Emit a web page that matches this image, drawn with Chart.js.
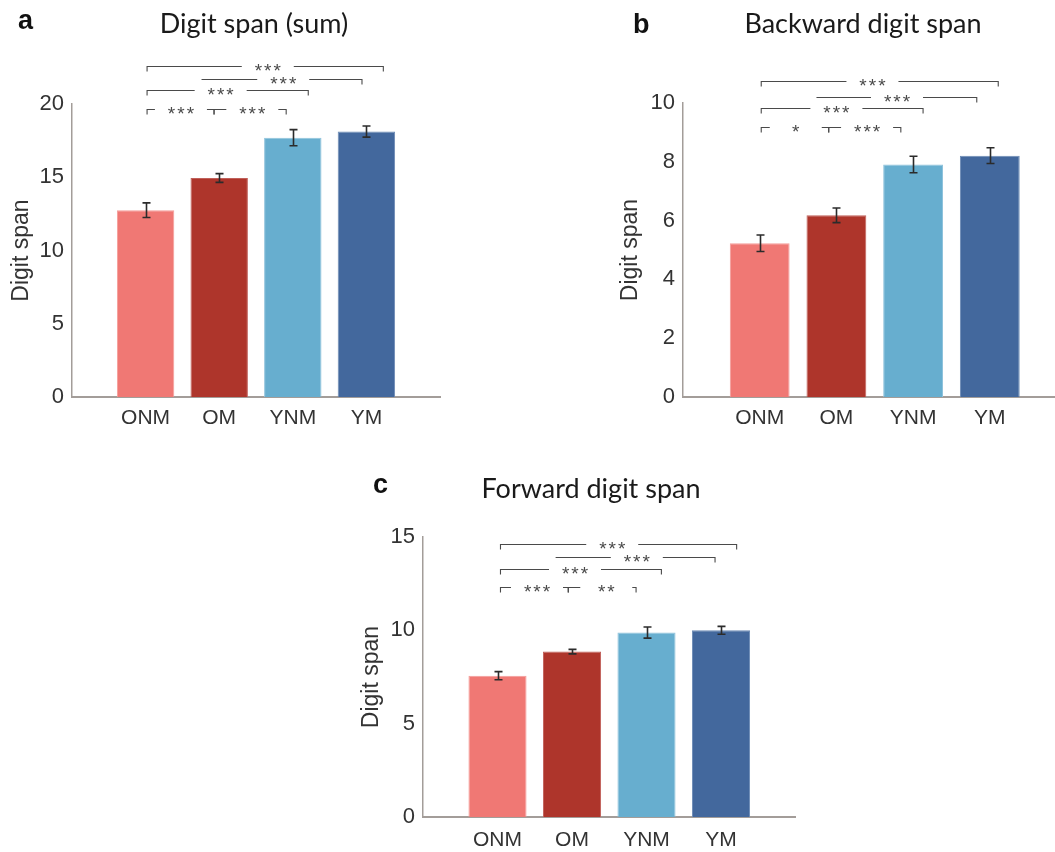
<!DOCTYPE html>
<html>
<head>
<meta charset="utf-8">
<script src="https://cdn.jsdelivr.net/npm/chart.js@4.4.1/dist/chart.umd.min.js"></script>
<style>
  body { margin: 0; background: #fff; }
  #page { position: relative; width: 1055px; height: 852px; overflow: hidden; }
  .panel { position: absolute; }
</style>
</head>
<body>
<div id="page">
  <div class="panel" style="left:0;top:0"><canvas id="chartA" width="445" height="440"></canvas></div>
  <div class="panel" style="left:600px;top:0"><canvas id="chartB" width="455" height="440"></canvas></div>
  <div class="panel" style="left:340px;top:470px"><canvas id="chartC" width="460" height="382"></canvas></div>
</div>
<script>
"use strict";

const groups = ['ONM', 'OM', 'YNM', 'YM'];
const barColors = ['#f07874', '#ae352b', '#67aecf', '#43689d'];
const barEdges = ['#f49c99', '#c0605a', '#8fc3dc', '#6c8bb5'];

// means and s.e.m.
const sumMeans = [12.75, 14.95, 17.7, 18.12];
const sumErrors = [0.5, 0.3, 0.55, 0.38];
const backwardMeans = [5.23, 6.18, 7.91, 8.21];
const backwardErrors = [0.28, 0.25, 0.28, 0.27];
const forwardMeans = [7.57, 8.86, 9.88, 10.0];
const forwardErrors = [0.22, 0.12, 0.3, 0.21];

// significance brackets: from/to/at are group positions, level is in axis units
const sumBrackets = [
    { from: 0.02, to: 3.23, at: 1.66, level: 22.6, text: '***', tickL: true },
    { from: 0.76, to: 2.94, at: 1.87, level: 21.68, text: '***', tickL: false },
    { from: 0.02, to: 2.21, at: 1.02, level: 20.93, text: '***', tickL: true },
    { from: 0.02, to: 0.93, at: 0.48, level: 19.69, text: '***', tickL: true },
    { from: 0.93, to: 1.91, at: 1.45, level: 19.69, text: '***', tickL: true }
];
const backwardBrackets = [
    { from: 0.02, to: 3.11, at: 1.47, level: 10.75, text: '***', tickL: true },
    { from: 0.74, to: 2.83, at: 1.79, level: 10.21, text: '***', tickL: false },
    { from: 0.02, to: 2.13, at: 1.0, level: 9.82, text: '***', tickL: true },
    { from: 0.02, to: 0.90, at: 0.47, level: 9.19, text: '*', tickL: true },
    { from: 0.90, to: 1.84, at: 1.40, level: 9.19, text: '***', tickL: true }
];
const forwardBrackets = [
    { from: 0.04, to: 3.21, at: 1.54, level: 14.64, text: '***', tickL: true },
    { from: 0.78, to: 2.92, at: 1.87, level: 13.93, text: '***', tickL: false },
    { from: 0.04, to: 2.2, at: 1.04, level: 13.28, text: '***', tickL: true },
    { from: 0.04, to: 0.95, at: 0.53, level: 12.32, text: '***', tickL: true },
    { from: 0.95, to: 1.86, at: 1.46, level: 12.32, text: '**', tickL: true }
];

const tickFont = '"Liberation Sans", Arial, sans-serif';
const titleFont = 'Lato, "Open Sans", sans-serif';

const annotate = {
    id: 'annotate',
    afterDraw(chart, args, opts) {
        const ctx = chart.ctx;
        const xs = chart.scales.x;
        const ys = chart.scales.y;
        const ds = chart.data.datasets[0];
        ctx.save();

        // error bars
        ctx.strokeStyle = '#2b2b2b';
        ctx.lineWidth = 1.6;
        chart.getDatasetMeta(0).data.forEach((bar, i) => {
            const m = ds.data[i].y, e = ds.errors[i];
            const top = ys.getPixelForValue(m + e);
            const bot = ys.getPixelForValue(m - e);
            const cx = Math.round(bar.x) + 0.5;
            ctx.beginPath();
            ctx.moveTo(cx, top); ctx.lineTo(cx, bot);
            ctx.moveTo(cx - 4, top); ctx.lineTo(cx + 4, top);
            ctx.moveTo(cx - 4, bot); ctx.lineTo(cx + 4, bot);
            ctx.stroke();
        });

        // brackets
        ctx.strokeStyle = '#4a4a4a';
        ctx.lineWidth = 1.1;
        ctx.fillStyle = '#4a4a4a';
        ctx.font = '19px ' + tickFont;
        ctx.letterSpacing = '2px';
        ctx.textAlign = 'center';
        ctx.textBaseline = 'alphabetic';
        opts.brackets.forEach(b => {
            const x1 = xs.getPixelForValue(b.from);
            const x2 = xs.getPixelForValue(b.to);
            const xt = xs.getPixelForValue(b.at);
            const y = Math.round(ys.getPixelForValue(b.level)) + 0.5;
            ctx.beginPath();
            if (b.tickL) { ctx.moveTo(x1, y + 5); ctx.lineTo(x1, y); } else { ctx.moveTo(x1, y); }
            ctx.lineTo(xt - 26, y);
            ctx.moveTo(xt + 26, y);
            ctx.lineTo(x2, y);
            ctx.lineTo(x2, y + 5);
            ctx.stroke();
            ctx.fillText(b.text, xt + 1, y + 10.5);
        });
        ctx.letterSpacing = '0px';

        // panel letter and title
        ctx.fillStyle = '#111';
        ctx.textAlign = 'left';
        ctx.font = 'bold 27px ' + tickFont;
        ctx.fillText(opts.letter, opts.letterX, opts.letterY);
        ctx.textAlign = 'center';
        ctx.font = '27px ' + titleFont;
        ctx.fillStyle = '#1a1a1a';
        ctx.fillText(opts.title, opts.titleX, opts.titleY);
        ctx.restore();
    }
};

function makeChart(id, cfg) {
    // eslint-disable-next-line no-undef
    return new Chart(document.getElementById(id), {
        type: 'bar',
        data: {
            datasets: [{
                data: cfg.means.map((v, i) => ({ x: i, y: v })),
                errors: cfg.errors,
                backgroundColor: barColors,
                borderColor: barEdges,
                borderWidth: 1,
                barPercentage: 0.78,
                categoryPercentage: 1
            }]
        },
        options: {
            responsive: false,
            animation: false,
            events: [],
            layout: { padding: { top: cfg.top, right: cfg.right, left: 0, bottom: 0 } },
            plugins: {
                legend: { display: false },
                tooltip: { enabled: false },
                annotate: {
                    brackets: cfg.brackets,
                    letter: cfg.letter, letterX: cfg.letterX, letterY: cfg.letterY,
                    title: cfg.title, titleX: cfg.titleX, titleY: cfg.titleY
                }
            },
            scales: {
                x: {
                    type: 'linear',
                    min: -1,
                    max: cfg.xMax,
                    offset: false,
                    grid: { display: false, drawTicks: false },
                    border: { color: '#a39d99', width: 2 },
                    afterBuildTicks: s => { s.ticks = groups.map((g, i) => ({ value: i })); },
                    afterFit: s => { s.height = cfg.xHeight; },
                    ticks: {
                        callback: v => groups[v],
                        autoSkip: false,
                        maxRotation: 0,
                        padding: cfg.xPad,
                        color: '#333',
                        font: { family: tickFont, size: 21 }
                    }
                },
                y: {
                    min: 0,
                    max: cfg.yMax,
                    grid: { display: false, drawTicks: false },
                    border: { color: '#a39d99', width: 1.5 },
                    afterFit: s => { s.width = cfg.yWidth; },
                    ticks: {
                        stepSize: cfg.step,
                        padding: 8,
                        color: '#333',
                        font: { family: tickFont, size: 22 }
                    },
                    title: {
                        display: true,
                        text: 'Digit span',
                        color: '#333',
                        padding: { top: cfg.titlePad, bottom: 0 },
                        font: { family: tickFont, size: 23 }
                    }
                }
            }
        },
        plugins: [annotate]
    });
}

makeChart('chartA', {
    means: sumMeans, errors: sumErrors, brackets: sumBrackets,
    yMax: 20, step: 5, xMax: 4,
    top: 104, right: 5, yWidth: 72, xHeight: 43, xPad: 9, titlePad: 8,
    letter: 'a', letterX: 18, letterY: 29,
    title: 'Digit span (sum)', titleX: 254, titleY: 33
});

makeChart('chartB', {
    means: backwardMeans, errors: backwardErrors, brackets: backwardBrackets,
    yMax: 10, step: 2, xMax: 3.85,
    top: 103, right: 0, yWidth: 83, xHeight: 43, xPad: 9, titlePad: 17,
    letter: 'b', letterX: 33, letterY: 33,
    title: 'Backward digit span', titleX: 263, titleY: 33
});

makeChart('chartC', {
    means: forwardMeans, errors: forwardErrors, brackets: forwardBrackets,
    yMax: 15, step: 5, xMax: 4,
    top: 67, right: 4.5, yWidth: 83, xHeight: 35, xPad: 11, titlePad: 18,
    letter: 'c', letterX: 33, letterY: 23,
    title: 'Forward digit span', titleX: 251, titleY: 28
});
</script>
</body>
</html>
